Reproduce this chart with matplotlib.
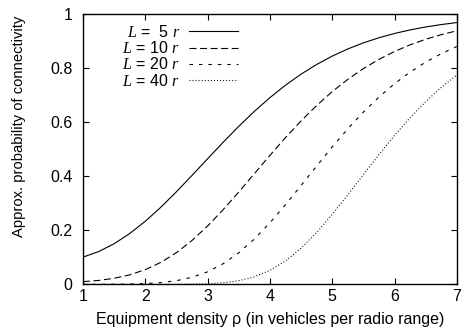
import matplotlib
matplotlib.use('Agg')
import matplotlib.pyplot as plt
import numpy as np

plt.rcParams['font.family'] = ['Liberation Sans', 'DejaVu Sans']
plt.rcParams['mathtext.fontset'] = 'custom'
plt.rcParams['mathtext.it'] = 'Liberation Serif:italic'
plt.rcParams['mathtext.rm'] = 'Liberation Sans'
plt.rcParams['lines.scale_dashes'] = False

# density rho (vehicles per radio range)
rho = [1.00, 1.25, 1.50, 1.75, 2.00, 2.25, 2.50, 2.75, 3.00, 3.25, 3.50, 3.75, 4.00,
       4.25, 4.50, 4.75, 5.00, 5.25, 5.50, 5.75, 6.00, 6.25, 6.50, 6.75, 7.00]

# approx. connectivity probability for each road length
p_L5 = [0.1009, 0.1213, 0.1505, 0.1882, 0.2336, 0.2856, 0.3428, 0.4032, 0.4649,
        0.5259, 0.5847, 0.6400, 0.6909, 0.7369, 0.7778, 0.8135, 0.8445, 0.8710,
        0.8935, 0.9124, 0.9282, 0.9414, 0.9523, 0.9612, 0.9686]
p_L10 = [0.0102, 0.0147, 0.0227, 0.0354, 0.0546, 0.0816, 0.1175, 0.1626, 0.2161,
         0.2766, 0.3419, 0.4096, 0.4774, 0.5430, 0.6049, 0.6618, 0.7132, 0.7586,
         0.7983, 0.8325, 0.8616, 0.8863, 0.9069, 0.9239, 0.9382]
p_L20 = [0.0001, 0.0002, 0.0005, 0.0013, 0.0030, 0.0067, 0.0138, 0.0264, 0.0467,
         0.0765, 0.1169, 0.1678, 0.2279, 0.2949, 0.3659, 0.4380, 0.5086, 0.5755,
         0.6373, 0.6931, 0.7424, 0.7854, 0.8224, 0.8537, 0.8801]
p_L40 = [0.0000, 0.0000, 0.0000, 0.0000, 0.0000, 0.0000, 0.0002, 0.0007, 0.0022,
         0.0059, 0.0137, 0.0282, 0.0519, 0.0870, 0.1339, 0.1918, 0.2587, 0.3312,
         0.4062, 0.4804, 0.5512, 0.6169, 0.6764, 0.7287, 0.7746]

labels = [r'$L$ =  5 $r$', r'$L$ = 10 $r$', r'$L$ = 20 $r$', r'$L$ = 40 $r$']

fig = plt.figure(figsize=(4.61, 3.35), dpi=100)
ax = fig.add_axes([0.180, 0.151, 0.811, 0.807])

lw = 0.8
ax.plot(rho, p_L5, color='black', lw=lw, ls='-', label=labels[0])
ax.plot(rho, p_L10, color='black', lw=lw, dashes=(5, 2.6), label=labels[1])
ax.plot(rho, p_L20, color='black', lw=lw, dashes=(2.5, 4.3), label=labels[2])
ax.plot(rho, p_L40, color='black', lw=lw, dashes=(0.7, 1.5), label=labels[3])

ax.set_xlim(1, 7)
ax.set_ylim(0, 1)
ax.set_xticks([1, 2, 3, 4, 5, 6, 7])
ax.set_yticks([0, 0.2, 0.4, 0.6, 0.8, 1])
ax.set_yticklabels(['0', '0.2', '0.4', '0.6', '0.8', '1'])
ax.tick_params(direction='in', top=True, right=True, length=4, width=0.8,
               labelsize=11.5)
ax.tick_params(axis='y', pad=7.5)
ax.tick_params(axis='x', pad=3)
for s in ax.spines.values():
    s.set_linewidth(1.0)

ax.set_xlabel('Equipment density ρ (in vehicles per radio range)', fontsize=11.5, labelpad=6)
ax.set_ylabel('Approx. probability of connectivity', fontsize=10.6)
ax.yaxis.set_label_coords(-0.153, 0.583)

ax.legend(loc='upper right', frameon=False, markerfirst=False, fontsize=11.5,
          handlelength=3.05, handletextpad=0.55, labelspacing=0.02,
          borderpad=0.0, borderaxespad=0.0, bbox_to_anchor=(0.414, 0.964))

fig.savefig('out.png', dpi=100)
